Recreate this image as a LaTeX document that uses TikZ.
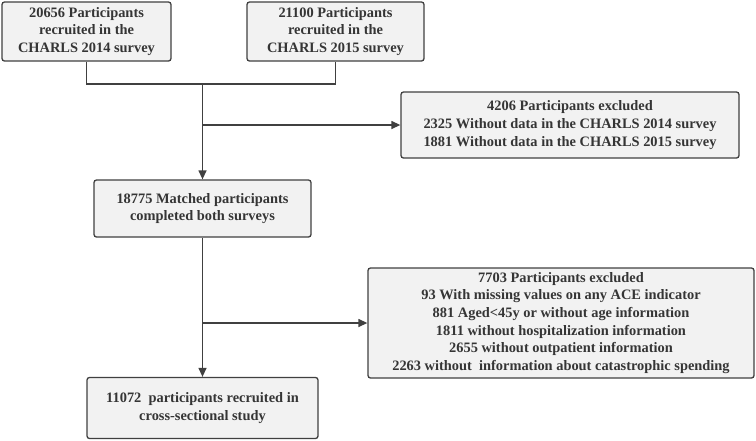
\documentclass[tikz,border=0pt]{standalone}
\usepackage{fontspec}
\setmainfont{Liberation Serif}
\usetikzlibrary{arrows.meta}
\definecolor{boxfill}{HTML}{F2F2F2}
\definecolor{boxline}{HTML}{404040}
\definecolor{txt}{HTML}{353535}
\begin{document}
\begin{tikzpicture}[x=1pt,y=-1pt,
  flowbox/.style={draw=boxline,fill=boxfill,line width=1.3pt,rounded corners=2.5pt,
    inner sep=0pt,align=center,text=txt,
    font=\bfseries\fontsize{14.4}{17.7}\selectfont},
  conn/.style={draw=boxline,line width=1.3pt},
  arr/.style={conn,-{Triangle[length=9pt,width=8pt]}}]
\useasboundingbox (0,0) rectangle (756,440);
\node[flowbox,minimum width=169pt,minimum height=59pt] (b1) at (86.5,31.5)
  {20656 Participants\\recruited in the\\CHARLS 2014 survey};
\node[flowbox,minimum width=177pt,minimum height=59pt] (b2) at (335.5,31.5)
  {21100 Participants\\recruited in the\\CHARLS 2015 survey};
\node[flowbox,minimum width=338pt,minimum height=66pt] (b3) at (570,125)
  {4206 Participants excluded\\2325 Without data in the CHARLS 2014 survey\\1881 Without data in the CHARLS 2015 survey};
\node[flowbox,minimum width=217pt,minimum height=57pt] (b4) at (202.5,208.5)
  {18775 Matched participants\\completed both surveys};
\node[flowbox,minimum width=386pt,minimum height=110pt] (b5) at (561,323)
  {7703 Participants excluded\\93 With missing values on any ACE indicator\\881 Aged<45y or without age information\\1811 without hospitalization information\\2655 without outpatient information\\2263 without\ \ information about catastrophic spending};
\node[flowbox,minimum width=231pt,minimum height=61pt] (b6) at (202.5,408)
  {11072\ \ participants recruited in\\cross-sectional study};
\coordinate (j) at (202.5,84);
\coordinate (k) at (202.5,125);
\coordinate (m) at (202.5,323);
\draw[conn] (b1.south) |- (j) -| (b2.south);
\draw[arr] (j) -- (b4.north);
\draw[arr] (k) -- (b3.west);
\draw[arr] (b4.south) -- (b6.north);
\draw[arr] (m) -- (b5.west);
\end{tikzpicture}
\end{document}
